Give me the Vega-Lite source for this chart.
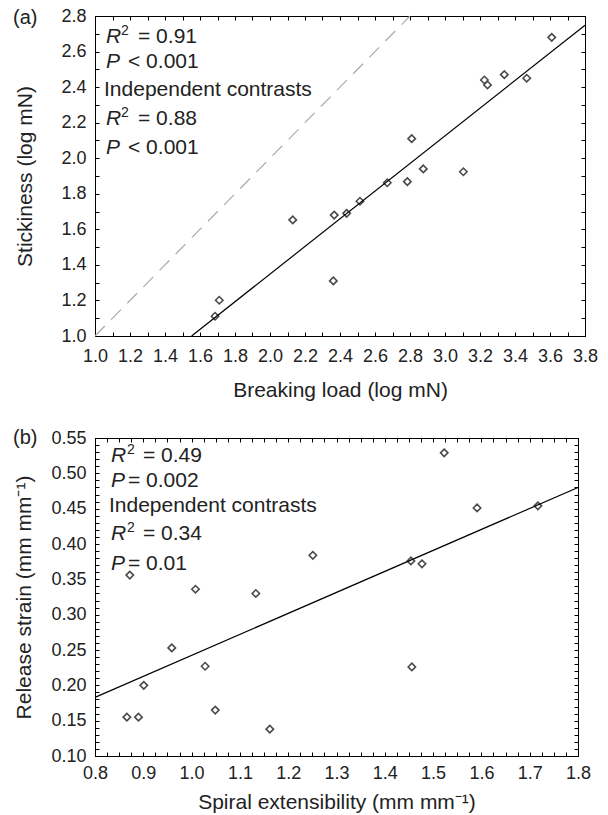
{
  "$schema": "https://vega.github.io/schema/vega-lite/v6.json",
  "padding": {"left": 12, "top": 6, "right": 5, "bottom": 3},
  "spacing": 26,
  "config": {
    "font": "Liberation Sans",
    "view": {"stroke": "black", "strokeWidth": 1},
    "axis": {
      "grid": false, "domainColor": "black", "tickColor": "black", "tickSize": -4, "tickWidth": 1,
      "labelFontSize": 18, "labelColor": "#222", "labelOverlap": false, "labelFlush": false,
      "titleFontSize": 21, "titleFontWeight": "normal", "titleColor": "#222"
    },
    "axisX": {"labelPadding": 15, "titlePadding": 14},
    "axisY": {"labelPadding": 13},
    "title": {"fontSize": 20, "fontWeight": "normal", "color": "#222"}
  },
  "datasets": {
    "ptsA": [
      {"x": 1.686, "y": 1.111}, {"x": 1.71, "y": 1.201}, {"x": 2.13, "y": 1.653}, {"x": 2.362, "y": 1.31},
      {"x": 2.367, "y": 1.68}, {"x": 2.438, "y": 1.69}, {"x": 2.514, "y": 1.758}, {"x": 2.67, "y": 1.862},
      {"x": 2.785, "y": 1.868}, {"x": 2.81, "y": 2.11}, {"x": 2.876, "y": 1.94}, {"x": 3.105, "y": 1.924},
      {"x": 3.225, "y": 2.44}, {"x": 3.243, "y": 2.412}, {"x": 3.339, "y": 2.47}, {"x": 3.467, "y": 2.45},
      {"x": 3.61, "y": 2.68}
    ],
    "fitA": [{"x": 1.552, "y": 1.0}, {"x": 3.8, "y": 2.748}],
    "oneA": [{"x": 1.0, "y": 1.0}, {"x": 2.8, "y": 2.8}],
    "annA": [
      {"x": 1.063, "y": 2.650, "kind": "R", "it": "R", "rest": "= 0.91"},
      {"x": 1.063, "y": 2.509, "kind": "P", "it": "P", "rest": "< 0.001"},
      {"x": 1.063, "y": 2.350, "kind": "I", "it": "", "rest": "Independent contrasts"},
      {"x": 1.063, "y": 2.187, "kind": "R", "it": "R", "rest": "= 0.88"},
      {"x": 1.063, "y": 2.022, "kind": "P", "it": "P", "rest": "< 0.001"}
    ],
    "ptsB": [
      {"x": 0.866, "y": 0.155}, {"x": 0.872, "y": 0.356}, {"x": 0.89, "y": 0.155}, {"x": 0.901, "y": 0.2},
      {"x": 0.959, "y": 0.253}, {"x": 1.008, "y": 0.336}, {"x": 1.028, "y": 0.227}, {"x": 1.049, "y": 0.165},
      {"x": 1.133, "y": 0.33}, {"x": 1.162, "y": 0.138}, {"x": 1.251, "y": 0.384}, {"x": 1.454, "y": 0.376},
      {"x": 1.456, "y": 0.226}, {"x": 1.477, "y": 0.372}, {"x": 1.523, "y": 0.529}, {"x": 1.591, "y": 0.451},
      {"x": 1.717, "y": 0.454}
    ],
    "fitB": [{"x": 0.8, "y": 0.183}, {"x": 1.8, "y": 0.48}],
    "annB": [
      {"x": 0.833, "y": 0.5156, "kind": "R", "it": "R", "rest": "= 0.49"},
      {"x": 0.833, "y": 0.4807, "kind": "P", "it": "P", "rest": "= 0.002"},
      {"x": 0.833, "y": 0.4453, "kind": "I", "it": "", "rest": "Independent contrasts"},
      {"x": 0.833, "y": 0.4052, "kind": "R", "it": "R", "rest": "= 0.34"},
      {"x": 0.833, "y": 0.3628, "kind": "P", "it": "P", "rest": "= 0.01"}
    ]
  },
  "vconcat": [
    {
      "width": 490, "height": 320,
      "title": {"text": "(a)", "anchor": "start", "frame": "group", "orient": "top", "offset": 0, "dx": -82, "dy": 37, "baseline": "alphabetic"},
      "resolve": {"axis": {"x": "independent", "y": "independent"}},
      "layer": [
        {
          "data": {"name": "ptsA"},
          "mark": {"type": "point", "shape": "diamond", "filled": false, "size": 55, "stroke": "#4a4a4a", "strokeWidth": 1.6, "opacity": 1},
          "encoding": {
            "x": {"field": "x", "type": "quantitative", "scale": {"domain": [1.0, 3.8], "nice": false, "zero": false},
              "axis": {"orient": "bottom", "title": "Breaking load (log mN)",
                "values": [1.0,1.1,1.2,1.3,1.4,1.5,1.6,1.7,1.8,1.9,2.0,2.1,2.2,2.3,2.4,2.5,2.6,2.7,2.8,2.9,3.0,3.1,3.2,3.3,3.4,3.5,3.6,3.7,3.8],
                "labelExpr": "round(datum.value*10) % 2 == 0 ? format(datum.value, '.1f') : ''"}},
            "y": {"field": "y", "type": "quantitative", "scale": {"domain": [1.0, 2.8], "nice": false, "zero": false},
              "axis": {"orient": "left", "title": "Stickiness (log mN)", "titlePadding": 25,
                "values": [1.0,1.1,1.2,1.3,1.4,1.5,1.6,1.7,1.8,1.9,2.0,2.1,2.2,2.3,2.4,2.5,2.6,2.7,2.8],
                "labelExpr": "round(datum.value*10) % 2 == 0 ? format(datum.value, '.1f') : ''"}}
          }
        },
        {
          "data": {"name": "fitA"},
          "mark": {"type": "line", "color": "black", "strokeWidth": 1.2},
          "encoding": {
            "x": {"field": "x", "type": "quantitative", "scale": {"domain": [1.0, 3.8], "nice": false, "zero": false},
              "axis": {"orient": "top", "title": null, "labels": false,
                "values": [1.0,1.1,1.2,1.3,1.4,1.5,1.6,1.7,1.8,1.9,2.0,2.1,2.2,2.3,2.4,2.5,2.6,2.7,2.8,2.9,3.0,3.1,3.2,3.3,3.4,3.5,3.6,3.7,3.8]}},
            "y": {"field": "y", "type": "quantitative", "scale": {"domain": [1.0, 2.8], "nice": false, "zero": false},
              "axis": {"orient": "right", "title": null, "labels": false,
                "values": [1.0,1.1,1.2,1.3,1.4,1.5,1.6,1.7,1.8,1.9,2.0,2.1,2.2,2.3,2.4,2.5,2.6,2.7,2.8]}}
          }
        },
        {
          "data": {"name": "oneA"},
          "mark": {"type": "line", "color": "#aaaaaa", "strokeWidth": 1.2, "strokeDash": [14, 9]},
          "encoding": {
            "x": {"field": "x", "type": "quantitative", "scale": {"domain": [1.0, 3.8], "nice": false, "zero": false}, "axis": null},
            "y": {"field": "y", "type": "quantitative", "scale": {"domain": [1.0, 2.8], "nice": false, "zero": false}, "axis": null}
          }
        },
        {
          "data": {"name": "annA"},
          "transform": [{"filter": "datum.it != ''"}],
          "mark": {"type": "text", "align": "left", "baseline": "alphabetic", "fontSize": 21, "fontStyle": "italic", "color": "#222"},
          "encoding": {
            "x": {"field": "x", "type": "quantitative", "scale": {"domain": [1.0, 3.8], "nice": false, "zero": false}, "axis": null},
            "y": {"field": "y", "type": "quantitative", "scale": {"domain": [1.0, 2.8], "nice": false, "zero": false}, "axis": null},
            "text": {"field": "it"}
          }
        },
        {
          "data": {"name": "annA"},
          "transform": [{"filter": "datum.kind == 'R'"}],
          "mark": {"type": "text", "align": "left", "baseline": "alphabetic", "fontSize": 14, "dx": 15, "dy": -8, "color": "#222"},
          "encoding": {
            "x": {"field": "x", "type": "quantitative", "scale": {"domain": [1.0, 3.8], "nice": false, "zero": false}, "axis": null},
            "y": {"field": "y", "type": "quantitative", "scale": {"domain": [1.0, 2.8], "nice": false, "zero": false}, "axis": null},
            "text": {"value": "2"}
          }
        },
        {
          "data": {"name": "annA"},
          "transform": [{"filter": "datum.kind == 'R'"}],
          "mark": {"type": "text", "align": "left", "baseline": "alphabetic", "fontSize": 21, "dx": 32, "color": "#222"},
          "encoding": {
            "x": {"field": "x", "type": "quantitative", "scale": {"domain": [1.0, 3.8], "nice": false, "zero": false}, "axis": null},
            "y": {"field": "y", "type": "quantitative", "scale": {"domain": [1.0, 2.8], "nice": false, "zero": false}, "axis": null},
            "text": {"field": "rest"}
          }
        },
        {
          "data": {"name": "annA"},
          "transform": [{"filter": "datum.kind == 'P'"}],
          "mark": {"type": "text", "align": "left", "baseline": "alphabetic", "fontSize": 21, "dx": 22, "color": "#222"},
          "encoding": {
            "x": {"field": "x", "type": "quantitative", "scale": {"domain": [1.0, 3.8], "nice": false, "zero": false}, "axis": null},
            "y": {"field": "y", "type": "quantitative", "scale": {"domain": [1.0, 2.8], "nice": false, "zero": false}, "axis": null},
            "text": {"field": "rest"}
          }
        },
        {
          "data": {"name": "annA"},
          "transform": [{"filter": "datum.kind == 'I'"}],
          "mark": {"type": "text", "align": "left", "baseline": "alphabetic", "fontSize": 21, "dx": -2, "color": "#222"},
          "encoding": {
            "x": {"field": "x", "type": "quantitative", "scale": {"domain": [1.0, 3.8], "nice": false, "zero": false}, "axis": null},
            "y": {"field": "y", "type": "quantitative", "scale": {"domain": [1.0, 2.8], "nice": false, "zero": false}, "axis": null},
            "text": {"field": "rest"}
          }
        }
      ]
    },
    {
      "width": 483, "height": 318,
      "title": {"text": "(b)", "anchor": "start", "frame": "group", "orient": "top", "offset": 0, "dx": -82, "dy": 35, "baseline": "alphabetic"},
      "resolve": {"axis": {"x": "independent", "y": "independent"}},
      "layer": [
        {
          "data": {"name": "ptsB"},
          "mark": {"type": "point", "shape": "diamond", "filled": false, "size": 55, "stroke": "#4a4a4a", "strokeWidth": 1.6, "opacity": 1},
          "encoding": {
            "x": {"field": "x", "type": "quantitative", "scale": {"domain": [0.8, 1.8], "nice": false, "zero": false},
              "axis": {"orient": "bottom", "title": "Spiral extensibility (mm mm⁻¹)", "labelPadding": 12, "titlePadding": 9,
                "values": [0.8,0.825,0.85,0.875,0.9,0.925,0.95,0.975,1.0,1.025,1.05,1.075,1.1,1.125,1.15,1.175,1.2,1.225,1.25,1.275,1.3,1.325,1.35,1.375,1.4,1.425,1.45,1.475,1.5,1.525,1.55,1.575,1.6,1.625,1.65,1.675,1.7,1.725,1.75,1.775,1.8],
                "labelExpr": "abs(datum.value*10 - round(datum.value*10)) < 0.001 ? format(datum.value, '.1f') : ''"}},
            "y": {"field": "y", "type": "quantitative", "scale": {"domain": [0.1, 0.55], "nice": false, "zero": false},
              "axis": {"orient": "left", "title": "Release strain (mm mm⁻¹)", "titlePadding": 16,
                "values": [0.1,0.11,0.12,0.13,0.14,0.15,0.16,0.17,0.18,0.19,0.2,0.21,0.22,0.23,0.24,0.25,0.26,0.27,0.28,0.29,0.3,0.31,0.32,0.33,0.34,0.35,0.36,0.37,0.38,0.39,0.4,0.41,0.42,0.43,0.44,0.45,0.46,0.47,0.48,0.49,0.5,0.51,0.52,0.53,0.54,0.55],
                "labelExpr": "abs(datum.value*20 - round(datum.value*20)) < 0.001 ? format(datum.value, '.2f') : ''"}}
          }
        },
        {
          "data": {"name": "fitB"},
          "mark": {"type": "line", "color": "black", "strokeWidth": 1.2},
          "encoding": {
            "x": {"field": "x", "type": "quantitative", "scale": {"domain": [0.8, 1.8], "nice": false, "zero": false},
              "axis": {"orient": "top", "title": null, "labels": false,
                "values": [0.8,0.825,0.85,0.875,0.9,0.925,0.95,0.975,1.0,1.025,1.05,1.075,1.1,1.125,1.15,1.175,1.2,1.225,1.25,1.275,1.3,1.325,1.35,1.375,1.4,1.425,1.45,1.475,1.5,1.525,1.55,1.575,1.6,1.625,1.65,1.675,1.7,1.725,1.75,1.775,1.8]}},
            "y": {"field": "y", "type": "quantitative", "scale": {"domain": [0.1, 0.55], "nice": false, "zero": false},
              "axis": {"orient": "right", "title": null, "labels": false,
                "values": [0.1,0.11,0.12,0.13,0.14,0.15,0.16,0.17,0.18,0.19,0.2,0.21,0.22,0.23,0.24,0.25,0.26,0.27,0.28,0.29,0.3,0.31,0.32,0.33,0.34,0.35,0.36,0.37,0.38,0.39,0.4,0.41,0.42,0.43,0.44,0.45,0.46,0.47,0.48,0.49,0.5,0.51,0.52,0.53,0.54,0.55]}}
          }
        },
        {
          "data": {"name": "annB"},
          "transform": [{"filter": "datum.it != ''"}],
          "mark": {"type": "text", "align": "left", "baseline": "alphabetic", "fontSize": 21, "fontStyle": "italic", "color": "#222"},
          "encoding": {
            "x": {"field": "x", "type": "quantitative", "scale": {"domain": [0.8, 1.8], "nice": false, "zero": false}, "axis": null},
            "y": {"field": "y", "type": "quantitative", "scale": {"domain": [0.1, 0.55], "nice": false, "zero": false}, "axis": null},
            "text": {"field": "it"}
          }
        },
        {
          "data": {"name": "annB"},
          "transform": [{"filter": "datum.kind == 'R'"}],
          "mark": {"type": "text", "align": "left", "baseline": "alphabetic", "fontSize": 14, "dx": 16, "dy": -8, "color": "#222"},
          "encoding": {
            "x": {"field": "x", "type": "quantitative", "scale": {"domain": [0.8, 1.8], "nice": false, "zero": false}, "axis": null},
            "y": {"field": "y", "type": "quantitative", "scale": {"domain": [0.1, 0.55], "nice": false, "zero": false}, "axis": null},
            "text": {"value": "2"}
          }
        },
        {
          "data": {"name": "annB"},
          "transform": [{"filter": "datum.kind == 'R'"}],
          "mark": {"type": "text", "align": "left", "baseline": "alphabetic", "fontSize": 21, "dx": 32, "color": "#222"},
          "encoding": {
            "x": {"field": "x", "type": "quantitative", "scale": {"domain": [0.8, 1.8], "nice": false, "zero": false}, "axis": null},
            "y": {"field": "y", "type": "quantitative", "scale": {"domain": [0.1, 0.55], "nice": false, "zero": false}, "axis": null},
            "text": {"field": "rest"}
          }
        },
        {
          "data": {"name": "annB"},
          "transform": [{"filter": "datum.kind == 'P'"}],
          "mark": {"type": "text", "align": "left", "baseline": "alphabetic", "fontSize": 21, "dx": 17, "color": "#222"},
          "encoding": {
            "x": {"field": "x", "type": "quantitative", "scale": {"domain": [0.8, 1.8], "nice": false, "zero": false}, "axis": null},
            "y": {"field": "y", "type": "quantitative", "scale": {"domain": [0.1, 0.55], "nice": false, "zero": false}, "axis": null},
            "text": {"field": "rest"}
          }
        },
        {
          "data": {"name": "annB"},
          "transform": [{"filter": "datum.kind == 'I'"}],
          "mark": {"type": "text", "align": "left", "baseline": "alphabetic", "fontSize": 21, "dx": -2, "color": "#222"},
          "encoding": {
            "x": {"field": "x", "type": "quantitative", "scale": {"domain": [0.8, 1.8], "nice": false, "zero": false}, "axis": null},
            "y": {"field": "y", "type": "quantitative", "scale": {"domain": [0.1, 0.55], "nice": false, "zero": false}, "axis": null},
            "text": {"field": "rest"}
          }
        }
      ]
    }
  ]
}
